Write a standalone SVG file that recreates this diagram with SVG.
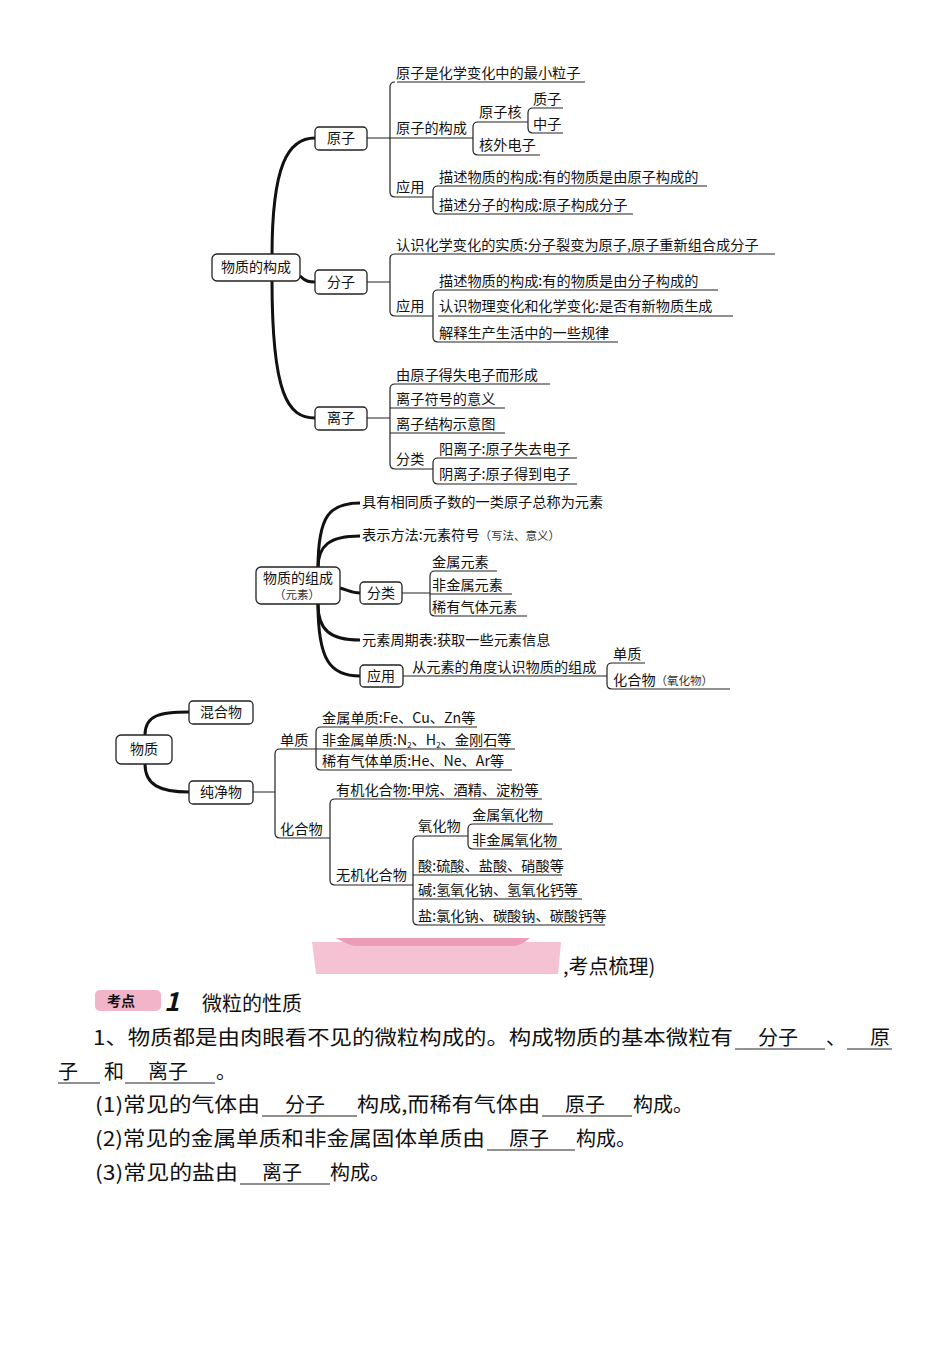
<svg xmlns="http://www.w3.org/2000/svg" width="950" height="1346" viewBox="0 0 950 1346">
<style>
text{font-family:"Noto Sans CJK SC",sans-serif;fill:#111}
.t{font-size:14.2px}
.b{font-size:14px}
.s{font-size:11.5px;fill:#333}
.p{font-size:20px}
.box{fill:#fff;stroke:#222;stroke-width:1.3}
.ln{fill:none;stroke:#222;stroke-width:1.2}
.tk{fill:none;stroke:#111;stroke-width:3}
</style>
<rect width="950" height="1346" fill="#fff"/>
<g id="connectors">
<path class="tk" d="M272 256 C272 165 288 138 315 138"/>
<path class="tk" d="M272 280 C272 395 288 418 315 418"/>
<path class="tk" d="M300 276 C306 282 310 282 315 282"/>
<path class="ln" d="M367 138 H473 M397 82 H585 M395 82 Q390 82 390 87 V192 Q390 197 395 197 H433 M438 186 H707 M438 214 H633 M438 186 Q433 186 433 191 V209 Q433 214 438 214 M478 122 H528 M478 155 H540 M478 122 Q473 122 473 127 V150 Q473 155 478 155 M533 108 H563 M533 133 H563 M533 108 Q528 108 528 113 V128 Q528 133 533 133"/>
<path class="ln" d="M367 282 H390 M395 254 H775 M395 254 Q390 254 390 259 V311 Q390 316 395 316 H433 M438 290 H718 M438 316 H733 M438 342 H618 M438 290 Q433 290 433 295 V337 Q433 342 438 342"/>
<path class="ln" d="M367 418 H390 M395 384 H550 M390 408 H505 M390 433 H505 M395 384 Q390 384 390 389 V464 Q390 469 395 469 H433 M438 458 H577 M438 484 H577 M438 458 Q433 458 433 463 V479 Q433 484 438 484"/>
<path class="tk" d="M318 568 C318 515 330 503 360 503"/>
<path class="tk" d="M318 568 C318 545 330 536 360 536"/>
<path class="tk" d="M340 588 C348 590 352 593 360 593"/>
<path class="tk" d="M318 604 C318 630 330 640 360 640"/>
<path class="tk" d="M318 604 C318 660 330 676 360 676"/>
<path class="ln" d="M402 593 H430 M435 571 H497 M430 594 H512 M435 571 Q430 571 430 576 V611 Q430 616 435 616 H527 M403 676 H607 M612 663 H645 M612 663 Q607 663 607 668 V684 Q607 689 612 689 H730"/>
<path class="tk" d="M145 735 C145 715 160 712 189 712"/>
<path class="tk" d="M145 764 C145 785 160 792 189 792"/>
<path class="ln" d="M253 792 H275 M280 749 H316 M321 727 H477 M316 749 H515 M321 727 Q316 727 316 732 V765 Q316 770 321 770 H512 M280 749 Q275 749 275 754 V833 Q275 838 280 838 H330 M335 799 H542 M335 799 Q330 799 330 804 V880 Q330 885 335 885 H413 M418 836 H468 M473 824 H553 M473 824 Q468 824 468 829 V844 Q468 849 473 849 H562 M418 836 Q413 836 413 841 V920 Q413 925 418 925 H605 M413 875 H562 M413 899 H582"/>
</g>
<g id="n-gouc"><rect class="box" x="212" y="254" width="88" height="27" rx="5"/><text class="b" x="221" y="272">物质的构成</text></g>
<g id="n-yuanzi"><rect class="box" x="315" y="127" width="52" height="23" rx="4"/><text class="b" x="327" y="143">原子</text></g>
<g id="n-fenzi"><rect class="box" x="315" y="270" width="52" height="24" rx="4"/><text class="b" x="327" y="287">分子</text></g>
<g id="n-lizi"><rect class="box" x="315" y="407" width="52" height="23" rx="4"/><text class="b" x="327" y="423">离子</text></g>
<g id="t-top">
<text class="t" x="396" y="78">原子是化学变化中的最小粒子</text>
<text class="t" x="396" y="133">原子的构成</text>
<text class="t" x="479" y="117">原子核</text>
<text class="t" x="533" y="104">质子</text>
<text class="t" x="533" y="129">中子</text>
<text class="t" x="479" y="150">核外电子</text>
<text class="t" x="396" y="192">应用</text>
<text class="t" x="439" y="182">描述物质的构成:有的物质是由原子构成的</text>
<text class="t" x="439" y="210">描述分子的构成:原子构成分子</text>
<text class="t" x="396" y="250">认识化学变化的实质:分子裂变为原子,原子重新组合成分子</text>
<text class="t" x="396" y="311">应用</text>
<text class="t" x="439" y="286">描述物质的构成:有的物质是由分子构成的</text>
<text class="t" x="439" y="311">认识物理变化和化学变化:是否有新物质生成</text>
<text class="t" x="439" y="338">解释生产生活中的一些规律</text>
<text class="t" x="396" y="380">由原子得失电子而形成</text>
<text class="t" x="396" y="404">离子符号的意义</text>
<text class="t" x="396" y="429">离子结构示意图</text>
<text class="t" x="396" y="464">分类</text>
<text class="t" x="439" y="454">阳离子:原子失去电子</text>
<text class="t" x="439" y="479">阴离子:原子得到电子</text>
</g>
<g id="n-zucheng"><rect class="box" x="256" y="567" width="84" height="37" rx="5"/><text class="b" x="263" y="583">物质的组成</text><text class="s" x="274" y="599">（元素）</text></g>
<g id="n-fenlei"><rect class="box" x="360" y="582" width="42" height="22" rx="4"/><text class="b" x="367" y="598">分类</text></g>
<g id="n-yingyong"><rect class="box" x="360" y="665" width="43" height="22" rx="4"/><text class="b" x="367" y="681">应用</text></g>
<g id="t-mid">
<text class="t" x="362" y="507">具有相同质子数的一类原子总称为元素</text>
<text class="t" x="362" y="540">表示方法:元素符号<tspan class="s">（写法、意义）</tspan></text>
<text class="t" x="432" y="567">金属元素</text>
<text class="t" x="432" y="590">非金属元素</text>
<text class="t" x="432" y="612">稀有气体元素</text>
<text class="t" x="362" y="645">元素周期表:获取一些元素信息</text>
<text class="t" x="412" y="672">从元素的角度认识物质的组成</text>
<text class="t" x="613" y="659">单质</text>
<text class="t" x="613" y="685">化合物<tspan class="s">（氧化物）</tspan></text>
</g>
<g id="n-wuzhi"><rect class="box" x="116" y="735" width="56" height="29" rx="5"/><text class="b" x="130" y="754">物质</text></g>
<g id="n-hunhe"><rect class="box" x="189" y="701" width="64" height="23" rx="4"/><text class="b" x="200" y="717">混合物</text></g>
<g id="n-chunjing"><rect class="box" x="189" y="781" width="64" height="23" rx="4"/><text class="b" x="200" y="797">纯净物</text></g>
<g id="t-bot">
<text class="t" x="280" y="745">单质</text>
<text class="t" x="322" y="723">金属单质:Fe、Cu、Zn等</text>
<text class="t" x="322" y="745">非金属单质:N<tspan font-size="8" dy="3">2</tspan><tspan dy="-3">、H</tspan><tspan font-size="8" dy="3">2</tspan><tspan dy="-3">、金刚石等</tspan></text>
<text class="t" x="322" y="766">稀有气体单质:He、Ne、Ar等</text>
<text class="t" x="280" y="834">化合物</text>
<text class="t" x="336" y="795">有机化合物:甲烷、酒精、淀粉等</text>
<text class="t" x="336" y="880">无机化合物</text>
<text class="t" x="418" y="831">氧化物</text>
<text class="t" x="472" y="820">金属氧化物</text>
<text class="t" x="472" y="845">非金属氧化物</text>
<text class="t" x="418" y="871">酸:硫酸、盐酸、硝酸等</text>
<text class="t" x="418" y="895">碱:氢氧化钠、氢氧化钙等</text>
<text class="t" x="418" y="921">盐:氯化钠、碳酸钠、碳酸钙等</text>
</g>
<g id="page">
<path d="M312 942 H561 L558 974 H316 Z" fill="#f5c2d3"/>
<path d="M336 938 Q350 946 356 946 H514 Q520 946 530 938 Z" fill="#ec9bb9"/>
<text class="p" x="563" y="974">,考点梳理)</text>
<rect x="95" y="990" width="66" height="21" rx="5" fill="#f2b4c9"/>
<text x="107" y="1006" font-size="14" font-weight="bold">考点</text>
<text x="164" y="1011" font-size="26" font-weight="bold" font-style="italic" font-family="Liberation Serif,serif">1</text>
<text class="p" x="202" y="1011">微粒的性质</text>
<text class="p" x="93" y="1045" textLength="640" lengthAdjust="spacingAndGlyphs">1、物质都是由肉眼看不见的微粒构成的。构成物质的基本微粒有</text>
<text class="p" x="758" y="1045">分子</text><text class="p" x="826" y="1045">、</text><text class="p" x="870" y="1045">原</text>
<text class="p" x="58" y="1079">子</text><text class="p" x="104" y="1079">和</text><text class="p" x="148" y="1079">离子</text><text class="p" x="216" y="1079">。</text>
<text class="p" x="95" y="1112" textLength="165" lengthAdjust="spacingAndGlyphs">(1)常见的气体由</text><text class="p" x="285" y="1112">分子</text><text class="p" x="357" y="1112" textLength="183" lengthAdjust="spacingAndGlyphs">构成,而稀有气体由</text><text class="p" x="565" y="1112">原子</text><text class="p" x="633" y="1112">构成。</text>
<text class="p" x="95" y="1146" textLength="390" lengthAdjust="spacingAndGlyphs">(2)常见的金属单质和非金属固体单质由</text><text class="p" x="509" y="1146">原子</text><text class="p" x="576" y="1146">构成。</text>
<text class="p" x="95" y="1180" textLength="143" lengthAdjust="spacingAndGlyphs">(3)常见的盐由</text><text class="p" x="262" y="1180">离子</text><text class="p" x="330" y="1180">构成。</text>
<path d="M735 1049 H825 M847 1049 H892 M58 1083 H100 M125 1083 H215 M262 1116 H357 M542 1116 H632 M487 1150 H575 M240 1184 H330" stroke="#222" stroke-width="1"/>
</g>
</svg>
